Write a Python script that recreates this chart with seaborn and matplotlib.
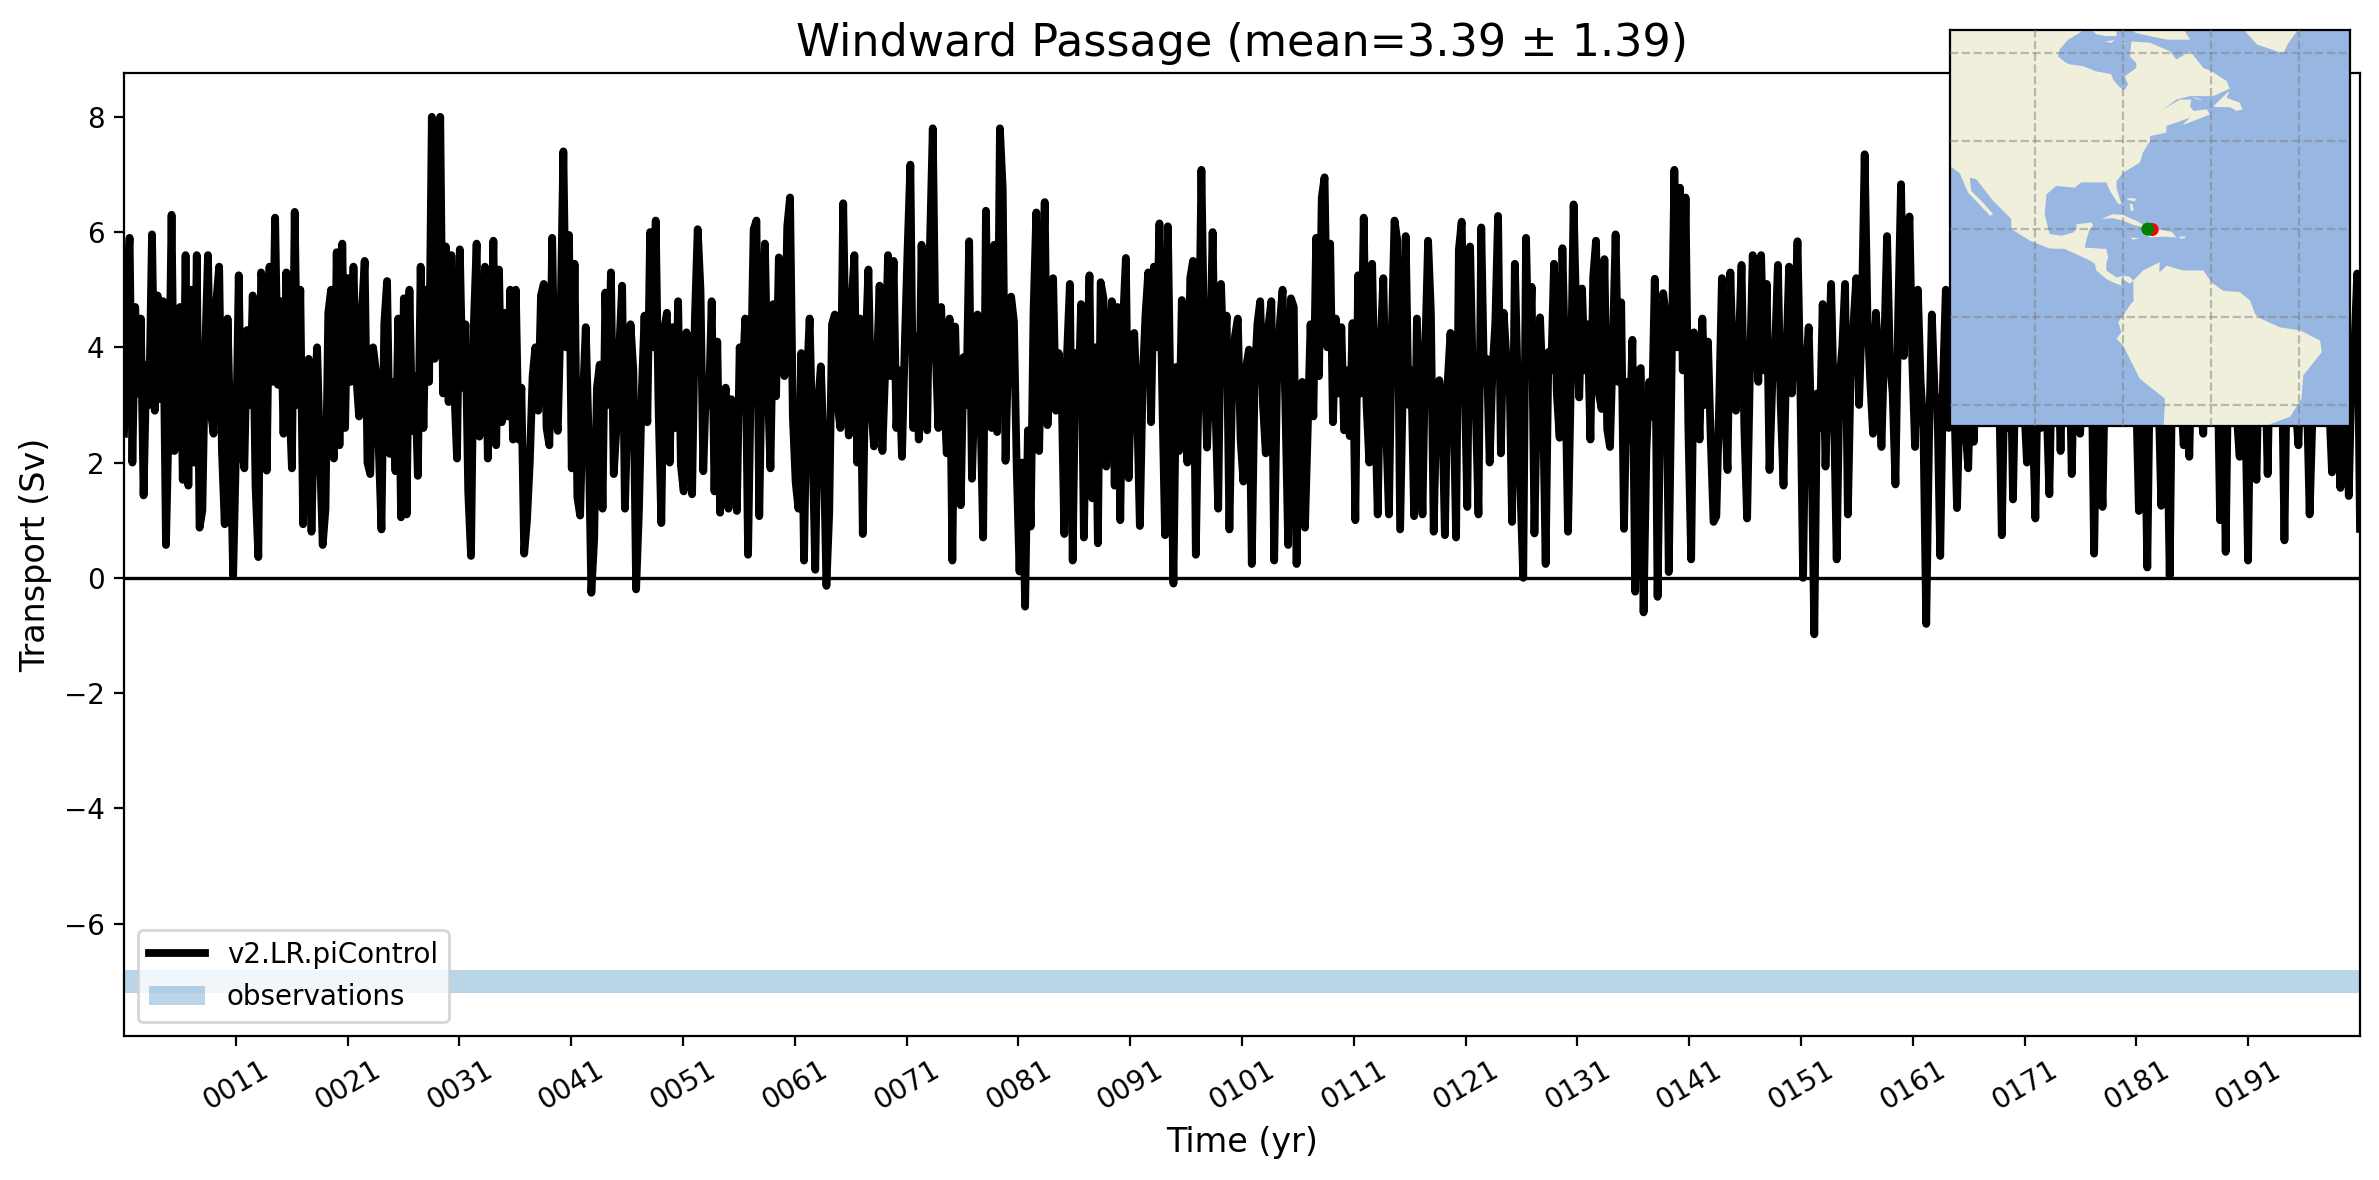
import numpy as np
import pandas as pd
import matplotlib
matplotlib.use("Agg")
import matplotlib.pyplot as plt
import seaborn as sns

# seasonal transport in Sv, one row = two years
transport = [
    2.5, 5.0, 5.9, 2.0, 4.7, 3.2, 4.5, 1.43,
    3.7, 3.0, 5.96, 2.9, 4.9, 3.1, 4.8, 0.57,
    2.8, 6.3, 2.2, 4.0, 4.7, 1.7, 5.6, 1.6,
    5.0, 2.0, 5.6, 0.87, 1.17, 3.9, 5.6, 2.9,
    2.5, 4.8, 5.4, 2.2, 0.93, 4.5, 2.5, 0.03,
    2.2, 5.25, 2.3, 1.9, 4.3, 3.0, 4.9, 1.6,
    0.36, 5.3, 5.0, 1.86, 5.4, 3.4, 6.25, 3.35,
    4.8, 2.5, 5.3, 3.2, 1.9, 6.35, 3.0, 5.0,
    0.93, 2.6, 3.8, 0.8, 3.0, 4.0, 2.2, 0.57,
    1.2, 4.6, 5.0, 2.07, 5.65, 2.3, 5.8, 2.6,
    5.2, 3.4, 5.4, 3.5, 2.8, 4.6, 5.5, 2.0,
    1.8, 4.0, 3.6, 2.3, 0.84, 4.4, 5.15, 2.15,
    3.4, 1.85, 4.5, 1.05, 4.85, 1.1, 5.0, 2.55,
    3.5, 1.77, 5.4, 2.6, 5.0, 3.4, 8.0, 3.8,
    4.2, 8.0, 3.2, 5.75, 3.05, 5.6, 3.3, 2.07,
    5.7, 3.3, 4.4, 1.5, 0.38, 4.4, 5.8, 2.45,
    3.0, 5.4, 2.07, 3.5, 5.85, 2.3, 5.35, 2.7,
    4.6, 2.8, 5.0, 2.4, 5.0, 2.4, 3.3, 0.42,
    1.0, 2.0, 3.5, 4.0, 2.9, 4.9, 5.1, 2.6,
    2.3, 5.9, 3.0, 2.55, 4.5, 7.4, 4.0, 5.95,
    1.9, 5.45, 1.4, 1.08, 3.1, 4.35, 2.5, -0.26,
    0.66, 3.3, 3.7, 1.2, 4.95, 3.0, 5.3, 1.8,
    2.65, 4.0, 5.07, 1.2, 3.0, 4.4, 3.6, -0.2,
    1.16, 3.2, 4.55, 2.7, 6.0, 4.0, 6.2, 3.0,
    0.95, 4.3, 4.6, 2.0, 4.35, 2.6, 4.8, 1.95,
    1.5, 4.26, 2.5, 1.45, 4.5, 6.05, 5.0, 1.85,
    3.4, 3.0, 4.8, 1.5, 4.1, 1.13, 2.6, 3.3,
    1.2, 3.1, 2.6, 1.16, 4.0, 3.4, 4.5, 0.4,
    3.5, 6.05, 6.2, 1.07, 4.0, 5.8, 3.4, 1.9,
    4.75, 3.15, 5.56, 3.8, 3.5, 6.1, 6.6, 2.8,
    1.66, 1.2, 3.9, 0.3, 3.4, 4.5, 2.4, 0.14,
    3.0, 3.67, 2.3, -0.14, 1.13, 4.4, 4.57, 3.0,
    2.6, 6.5, 3.6, 2.47, 4.75, 5.6, 2.0, 4.5,
    0.76, 4.0, 5.35, 3.0, 2.28, 3.6, 5.07, 2.2,
    3.6, 5.6, 3.5, 5.5, 2.6, 3.6, 2.1, 4.05,
    5.7, 7.17, 2.6, 4.2, 2.4, 5.78, 3.4, 2.56,
    5.78, 7.8, 4.0, 2.6, 4.7, 3.2, 2.16, 4.5,
    0.3, 4.36, 2.4, 1.26, 3.83, 3.0, 5.84, 1.72,
    3.4, 4.57, 3.0, 0.7, 6.37, 3.0, 2.6, 5.78,
    2.53, 7.8, 6.74, 2.03, 4.0, 4.88, 4.45, 1.9,
    0.11, 2.0, -0.5, 2.56, 0.89, 4.6, 6.34, 2.2,
    4.5, 6.52, 2.65, 3.9, 5.2, 2.9, 3.9, 3.4,
    0.76, 3.9, 5.1, 0.3, 3.9, 3.0, 4.75, 0.7,
    3.5, 5.25, 1.38, 4.0, 0.6, 5.13, 4.85, 1.93,
    3.6, 4.8, 1.6, 4.7, 1.0, 4.45, 5.55, 1.73,
    3.6, 4.25, 3.0, 0.9, 3.4, 4.55, 5.3, 2.7,
    5.4, 4.0, 6.15, 3.2, 0.74, 6.1, 2.9, -0.1,
    3.66, 2.2, 4.82, 3.8, 2.0, 5.2, 5.5, 0.4,
    3.4, 7.08, 4.0, 2.26, 3.6, 6.0, 3.0, 1.2,
    5.1, 3.6, 4.55, 0.84, 3.4, 4.2, 4.5, 2.4,
    1.67, 3.66, 3.96, 0.24, 3.4, 4.4, 4.8, 3.0,
    2.16, 4.4, 4.8, 0.3, 3.4, 4.4, 5.0, 3.0,
    0.57, 4.85, 4.7, 0.24, 3.2, 3.4, 0.87, 2.6,
    4.4, 2.8, 5.9, 3.5, 6.6, 6.95, 4.0, 5.8,
    2.7, 4.5, 3.2, 4.35, 2.56, 3.6, 2.46, 4.42,
    1.0, 5.25, 3.2, 6.25, 3.0, 2.0, 5.45, 3.0,
    1.1, 4.0, 5.2, 2.6, 1.1, 4.2, 6.2, 5.85,
    0.84, 3.4, 5.93, 3.0, 3.6, 1.07, 4.5, 2.8,
    1.1, 4.0, 5.85, 4.6, 0.8, 3.0, 3.43, 3.0,
    0.74, 3.4, 4.25, 3.3, 0.7, 5.7, 6.18, 3.6,
    1.23, 5.75, 3.4, 3.0, 1.1, 6.08, 3.4, 3.8,
    2.0, 3.6, 4.4, 6.28, 2.16, 4.6, 3.8, 3.82,
    0.97, 5.45, 3.4, 1.5, 0.0, 5.9, 3.6, 5.05,
    0.77, 3.4, 4.52, 3.2, 0.24, 3.92, 3.6, 5.45,
    3.2, 2.43, 5.72, 3.6, 0.8, 3.4, 6.48, 4.4,
    3.13, 5.02, 3.6, 4.4, 2.4, 5.22, 5.85, 3.2,
    2.93, 5.53, 2.58, 2.27, 4.0, 5.96, 3.4, 4.78,
    0.85, 3.4, 2.4, 4.13, -0.24, 3.57, 3.64, -0.6,
    2.2, 3.4, 2.8, 5.19, -0.33, 3.0, 4.94, 4.53,
    0.1, 3.6, 7.08, 4.0, 6.77, 3.6, 6.6, 2.6,
    0.32, 4.26, 3.6, 2.4, 4.5, 3.0, 4.1, 2.4,
    0.97, 1.07, 3.0, 5.2, 3.0, 1.87, 5.3, 3.6,
    2.9, 4.0, 5.43, 2.6, 1.03, 3.6, 5.6, 4.4,
    3.4, 5.6, 3.6, 5.1, 1.87, 3.4, 4.0, 5.43,
    3.0, 1.6, 3.8, 5.4, 3.2, 4.4, 5.84, 3.4,
    0.0, 3.6, 4.35, 2.4, -0.98, 3.2, 2.6, 4.75,
    1.93, 3.6, 5.1, 3.0, 0.32, 3.4, 4.0, 5.1,
    1.1, 3.6, 4.4, 5.2, 3.0, 4.6, 7.35, 4.5,
    3.4, 2.5, 4.6, 3.8, 2.27, 4.0, 5.93, 3.8,
    3.2, 1.62, 4.6, 6.83, 3.85, 5.4, 6.27, 3.8,
    2.27, 5.0, 3.4, 2.6, -0.8, 2.4, 4.57, 3.2,
    3.0, 0.38, 3.4, 5.0, 2.6, 3.0, 3.14, 1.21,
    3.2, 3.6, 2.6, 1.9, 3.8, 2.36, 4.0, 2.8,
    4.2, 2.8, 4.0, 3.0, 2.8, 4.0, 3.4, 0.74,
    3.6, 2.6, 4.4, 1.36, 4.0, 2.8, 4.2, 3.0,
    2.0, 4.2, 2.8, 1.03, 4.0, 2.6, 4.4, 3.0,
    1.45, 4.0, 2.8, 4.2, 2.2, 4.4, 3.0, 4.2,
    1.8, 4.2, 2.8, 2.5, 4.0, 4.6, 3.0, 4.0,
    0.42, 3.6, 2.6, 1.23, 4.0, 3.2, 4.4, 2.8,
    4.2, 3.0, 4.6, 3.0, 4.0, 2.8, 4.4, 3.2,
    1.16, 4.2, 3.0, 0.18, 4.0, 2.8, 4.2, 3.2,
    1.25, 4.4, 3.0, 0.03, 4.2, 3.0, 4.4, 3.2,
    2.3, 4.0, 2.1, 4.2, 3.0, 4.4, 3.0, 2.5,
    4.2, 3.0, 4.6, 3.0, 4.0, 1.0, 3.8, 0.45,
    4.0, 3.0, 4.2, 2.8, 2.1, 4.4, 3.0, 0.3,
    4.0, 2.6, 1.7, 4.2, 3.0, 4.0, 1.8, 4.4,
    3.0, 4.2, 3.2, 4.0, 0.65, 4.2, 3.0, 4.4,
    3.0, 2.3, 4.0, 4.2, 3.2, 1.1, 2.8, 4.0,
    3.0, 4.2, 3.0, 4.4, 3.0, 1.83, 4.0, 3.0,
    1.56, 4.2, 3.0, 1.42, 3.6, 4.0, 5.28, 0.85,
]

year_ticks = [11, 21, 31, 41, 51, 61, 71, 81, 91, 101, 111, 121, 131, 141, 151, 161, 171, 181, 191]
year_labels = ["0011", "0021", "0031", "0041", "0051", "0061", "0071", "0081", "0091", "0101",
               "0111", "0121", "0131", "0141", "0151", "0161", "0171", "0181", "0191"]
obs_low = -7.2
obs_high = -6.8

# coastlines for the little map (lon, lat)
north_america = [
    (-119.5, 65.5), (-89.5, 65.5), (-89.5, 64.8), (-92.5, 63), (-94.4, 60.8), (-94.8, 59.2), (-92.9, 57.7),
    (-92.1, 57.4), (-89.1, 57), (-86.1, 55.8), (-82.7, 55.2), (-82.3, 54), (-81.1, 52.5), (-79.8, 51.5),
    (-78.9, 52.8), (-79.6, 54.7), (-77, 56.6), (-77, 57.7), (-78.5, 59.2), (-78.1, 62.6), (-73.9, 62.3),
    (-69.4, 60.4), (-67.9, 58.5), (-64.8, 60.4), (-61.8, 56.6), (-59.9, 55.8), (-56.5, 53.6), (-55.8, 51.9),
    (-59.5, 50.2), (-64.8, 50.2), (-67.9, 49.4), (-70.9, 47.2), (-67.1, 49.4), (-64.5, 49.4), (-64.8, 47.9),
    (-64, 46.8), (-61, 47.2), (-60.3, 46), (-66, 43.8), (-66.4, 43.8), (-64.8, 45.3), (-70.2, 43.4),
    (-70.2, 41.9), (-73.9, 41.1), (-73.9, 40), (-75.5, 37.4), (-76.2, 35.1), (-80, 32.8), (-81.5, 30.9),
    (-81.5, 29.4), (-80.4, 25.7), (-81.1, 25.7), (-83, 28.7), (-83.8, 30.6), (-89.5, 30.6), (-91, 29.4),
    (-95.2, 29.8), (-97.4, 27.9), (-97.8, 23.4), (-96.7, 18.9), (-94, 18.5), (-91.4, 19.2), (-90.6, 20),
    (-90.6, 21.1), (-87.2, 21.5), (-86.8, 20.8), (-87.6, 20), (-88.3, 17.7), (-88.7, 15.8), (-83.8, 15.5),
    (-83.4, 13.6), (-83.8, 12.5), (-83.8, 10.6), (-81.5, 9), (-80, 9.4), (-78.5, 9.2), (-77.7, 8.3),
    (-78.5, 7.6), (-80.4, 8.8), (-80.4, 7.2), (-82.3, 7.9), (-83.8, 8.7), (-86.1, 10.6), (-86.4, 12.1),
    (-88, 13.1), (-93.3, 15.5), (-96.7, 15.6), (-101.2, 17.4), (-105.4, 20), (-105.4, 22.3), (-109.5, 26.4),
    (-113.3, 31.3), (-114.8, 31.7), (-114.5, 28.7), (-111.8, 26), (-109.5, 23.4), (-110.2, 23), (-115.2, 28.3),
    (-117.1, 32.7), (-119, 34.1), (-119.5, 34.4),
]
south_america = [
    (-77.7, 8.3), (-75.5, 10.6), (-71.7, 12.5), (-71.8, 10.2), (-70.9, 10.9), (-70.2, 11.7), (-66.4, 10.6),
    (-61.8, 10.6), (-59.9, 7.9), (-57.3, 6), (-53.5, 5.7), (-51.2, 3.8), (-50.1, 0.8), (-48.6, -0.4),
    (-44.4, -2.3), (-39.8, -3), (-35.3, -5.3), (-34.9, -7.9), (-39.1, -13.2), (-39.5, -18.5), (-42.1, -22.6),
    (-47.8, -24.7), (-47.8, -25), (-70.8, -25), (-70.8, -24.7), (-70.5, -18.5), (-76.2, -14), (-80, -6.4),
    (-81.5, -4.9), (-80.4, -3.4), (-81.1, -1.1), (-78.5, 2.6), (-77.6, 3.8), (-77.7, 6.8),
]
greenland = [(-52.3, 65.5), (-52.3, 64.9), (-49.6, 61.9), (-45.2, 60.4), (-43.6, 60), (-42.5, 62.2), (-40.6, 64.9), (-40.6, 65.5)]
baffin = [(-78.9, 65.5), (-66.4, 65.5), (-64.8, 63), (-69.9, 63), (-73.9, 63.8), (-77, 64.5)]
southampton = [(-87.6, 65.5), (-81.5, 65.5), (-81.5, 63.8), (-83.8, 63.8), (-86, 64.2)]
coats = [(-84.2, 62.5), (-81.9, 63), (-82.7, 62.3)]
mansel = [(-80.4, 62.3), (-79.6, 62.3), (-80, 61.7)]
newfoundland = [(-59.5, 47.9), (-55.8, 51.5), (-56.5, 49.8), (-53.5, 48.7), (-52.9, 47.2), (-54.2, 46.8), (-55.8, 47.7), (-58.8, 47.7)]
anticosti = [(-64.5, 50), (-61.8, 49.4), (-63, 49.4)]
cuba = [(-84.9, 22.3), (-82.3, 23.4), (-80, 23.2), (-77, 21.9), (-74.2, 20.2), (-77.5, 20.9), (-80, 21.9), (-82.3, 22.5)]
hispaniola = [(-74.7, 18.9), (-72.4, 20), (-69, 19.4), (-67.9, 18.1), (-70.9, 18.3), (-73.9, 18.1)]
jamaica = [(-78.5, 18.1), (-76.2, 17.9), (-77.7, 17.6)]
puerto_rico = [(-67.3, 18.3), (-65.8, 18.3), (-66, 17.9), (-67.1, 17.9)]
bahamas = [(-79.1, 27), (-77.1, 27), (-77.3, 26.3), (-78.9, 26.6)]
andros = [(-78.5, 25.7), (-77.9, 25.7), (-77.6, 24.2), (-78.3, 24.2)]
land_shapes = [north_america, south_america, greenland, baffin, southampton, coats, mansel, newfoundland,
               anticosti, cuba, hispaniola, jamaica, puerto_rico, bahamas, andros]

section_lon = [-73.4, -74.4]
section_lat = [19.9, 20.0]
section_colors = ["red", "green"]

# ---- main panel ----
W, H = 2379, 1180
fig = plt.figure(figsize=(W / 200, H / 200), dpi=200)
ax = fig.add_axes([124 / W, 1 - 1036 / H, (2360 - 124) / W, (1036 - 73) / H])

df = pd.DataFrame({"time": np.linspace(1, 201, len(transport)), "transport": transport})
sns.lineplot(data=df, x="time", y="transport", color="k", linewidth=2.8, estimator=None,
             label="v2.LR.piControl", ax=ax)
ax.axhline(0, color="k", linewidth=1.2)
ax.axhspan(obs_low, obs_high, color="tab:blue", alpha=0.3, linewidth=0, label="observations")

ax.set_xlim(1, 201)
ax.set_ylim(-7.95, 8.76)
ax.set_xticks(year_ticks)
ax.set_xticklabels(year_labels, rotation=30)
ax.set_xlabel("Time (yr)", fontsize=12)
ax.set_ylabel("Transport (Sv)", fontsize=12)
ax.set_title("Windward Passage (mean=3.39 ± 1.39)", fontsize=16)
ax.legend(loc="lower left")

# ---- map inset ----
ax_map = fig.add_axes([1950 / W, 1 - 426 / H, 400 / W, 396 / H], facecolor="#97b6e1")
for shape in land_shapes:
    lon, lat = zip(*shape)
    ax_map.fill(lon, lat, color="#efefdb", linewidth=0, zorder=1)
sns.scatterplot(x=section_lon, y=section_lat, hue=section_colors, palette=section_colors, s=22,
                linewidth=0, legend=False, zorder=3, ax=ax_map)
ax_map.set_xlim(-119.3, -28.5)
ax_map.set_ylim(-24.7, 65.2)
ax_map.set_xticks([-100, -80, -60, -40])
ax_map.set_yticks([-20, 0, 20, 40, 60])
ax_map.tick_params(length=0, labelbottom=False, labelleft=False)
ax_map.grid(True, color="gray", alpha=0.5, linestyle="--", linewidth=0.8, zorder=2)
ax_map.set_axisbelow(False)
ax_map.set_xlabel("")
ax_map.set_ylabel("")

fig.savefig("out.png", dpi=200)
